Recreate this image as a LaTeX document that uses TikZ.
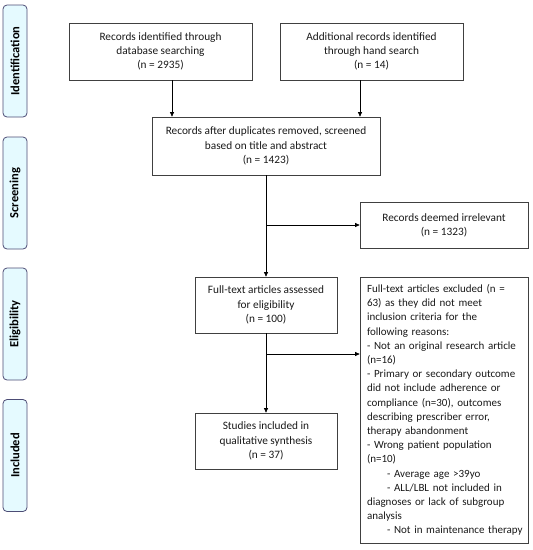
\documentclass[tikz,border=0pt]{standalone}
\usepackage{fontspec}
\setmainfont{Carlito}
\usetikzlibrary{arrows.meta}
\begin{document}
\begin{tikzpicture}[x=1pt,y=-1pt,
  box/.style={draw=black!75,line width=0.7pt,align=center,inner sep=2pt,text=black!90,font=\fontsize{11.3}{14.2}\selectfont},
  side/.style={draw=black!60!blue!40!gray,fill=blue!18!cyan!10,rounded corners=4pt,line width=0.8pt,rotate=90,minimum width=112,minimum height=24,font=\bfseries\fontsize{12.5}{14}\selectfont,inner sep=0pt},
  arr/.style={line width=0.7pt,-{Triangle[length=4.5pt,width=4pt]}}]
\useasboundingbox (0,0) rectangle (533,550);
\node[side] (s1) at (15,61) {Identification};
\node[side] (s2) at (15,193) {Screening};
\node[side] (s3) at (15,324) {Eligibility};
\node[side] (s4) at (15,455.5) {Included};
\node[box,minimum width=183,minimum height=57] (b1) at (160.5,51.5) {Records identified through\\database searching\\(n = 2935)};
\node[box,minimum width=183,minimum height=57] (b2) at (371.5,51.5) {Additional records identified\\through hand search\\(n = 14)};
\node[box,minimum width=228,minimum height=58] (b3) at (266,146) {Records after duplicates removed, screened\\based on title and abstract\\(n = 1423)};
\node[box,minimum width=142,minimum height=56] (b4) at (266,305) {Full-text articles assessed\\for eligibility\\(n = 100)};
\node[box,minimum width=142,minimum height=56] (b5) at (266,441) {Studies included in\\qualitative synthesis\\(n = 37)};
\node[box,minimum width=168,minimum height=46] (irr) at (444,225) {Records deemed irrelevant\\(n = 1323)};
\node[box,minimum width=168,minimum height=266,align=left,text width=154,inner xsep=7pt,inner ysep=3pt,font=\fontsize{11}{14.2}\selectfont] (ex) at (444,410) {Full-text articles excluded (n =\\63) as they did not meet\\inclusion criteria for the\\following reasons:\\\mbox{- Not an original research article}\\(n=16)\\- Primary or secondary outcome\\did not include adherence or\\compliance (n=30), outcomes\\describing prescriber error,\\therapy abandonment\\- Wrong patient population\\(n=10)\\\hspace*{20pt}\mbox{- Average age >39yo}\\\hspace*{20pt}\mbox{- ALL/LBL not included in}\\diagnoses or lack of subgroup\\analysis\\\hspace*{20pt}\mbox{- Not in maintenance therapy}};
\coordinate (c1) at (172,0);
\coordinate (c2) at (360,0);
\coordinate (j2) at (0,354);
\draw[arr] (c1 |- b1.south) -- (c1 |- b3.north);
\draw[arr] (c2 |- b2.south) -- (c2 |- b3.north);
\draw[arr] (b3.south) -- (b4.north);
\draw[arr] (b3.south |- irr.west) -- (irr.west);
\draw[arr] (b4.south) -- (b5.north);
\draw[arr] (b4.south |- j2) -- (ex.west |- j2);
\end{tikzpicture}
\end{document}
